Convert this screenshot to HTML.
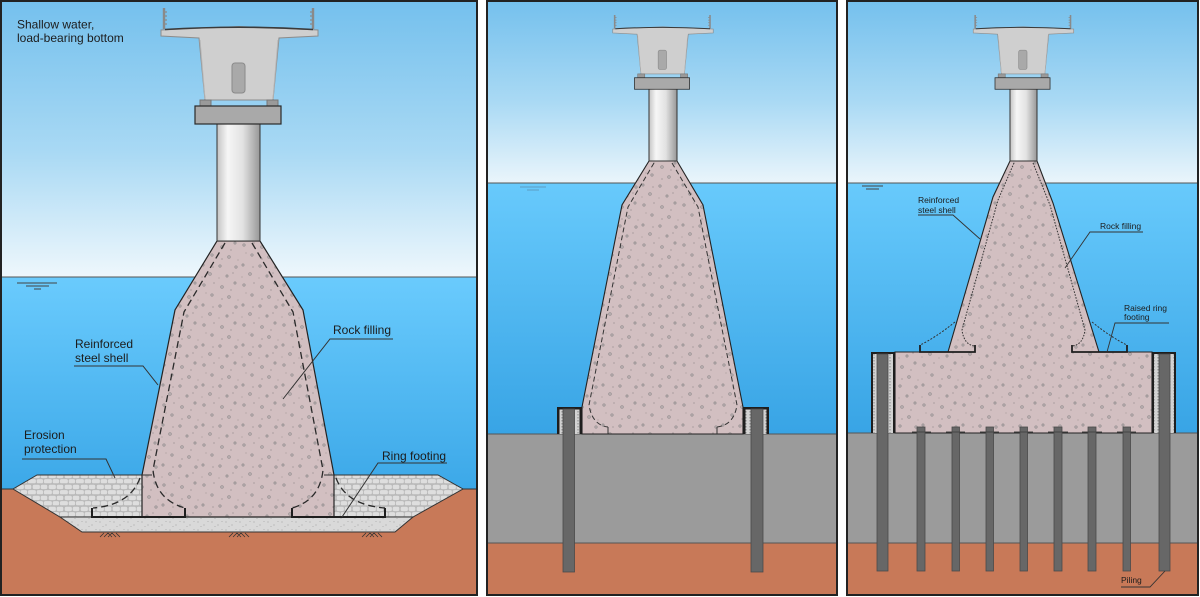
<!DOCTYPE html>
<html><head><meta charset="utf-8"><style>
html,body{margin:0;padding:0;background:#fff;}
svg{display:block;}
text{font-family:"Liberation Sans",Arial,sans-serif;fill:#1c1c1c;}
</style></head><body>
<svg width="1200" height="597" viewBox="0 0 1200 597" xmlns="http://www.w3.org/2000/svg">
<defs>
 <linearGradient id="sky1" gradientUnits="userSpaceOnUse" x1="0" y1="0" x2="0" y2="277">
  <stop offset="0" stop-color="#74c0ed"/><stop offset="0.55" stop-color="#a9d9f4"/><stop offset="1" stop-color="#eef7fc"/>
 </linearGradient>
 <linearGradient id="sky2" gradientUnits="userSpaceOnUse" x1="0" y1="0" x2="0" y2="183">
  <stop offset="0" stop-color="#74c0ed"/><stop offset="0.55" stop-color="#a9d9f4"/><stop offset="1" stop-color="#eaf5fb"/>
 </linearGradient>
 <linearGradient id="wat1" gradientUnits="userSpaceOnUse" x1="0" y1="277" x2="0" y2="489">
  <stop offset="0" stop-color="#6acbfd"/><stop offset="1" stop-color="#3ca8e8"/>
 </linearGradient>
 <linearGradient id="wat2" gradientUnits="userSpaceOnUse" x1="0" y1="183" x2="0" y2="434">
  <stop offset="0" stop-color="#68cafc"/><stop offset="1" stop-color="#38a4e5"/>
 </linearGradient>
 <linearGradient id="colg" x1="0" y1="0" x2="1" y2="0">
  <stop offset="0" stop-color="#c4c4c4"/><stop offset="0.25" stop-color="#f6f6f6"/><stop offset="0.6" stop-color="#e2e2e2"/><stop offset="1" stop-color="#979797"/>
 </linearGradient>
 <pattern id="dots" width="40" height="40" patternUnits="userSpaceOnUse">
  <rect width="40" height="40" fill="#d2bfc1"/>
  <g fill="#c4b7b9" stroke="#8e8a8b" stroke-width="0.7">
   <circle cx="4" cy="5" r="1.2"/><circle cx="22" cy="7" r="1.3"/><circle cx="35" cy="3" r="1.1"/>
   <circle cx="12" cy="15" r="1.2"/><circle cx="29" cy="17" r="1.3"/>
   <circle cx="3" cy="25" r="1.1"/><circle cx="20" cy="26" r="1.2"/><circle cx="36" cy="27" r="1.2"/>
   <circle cx="10" cy="34" r="1.3"/><circle cx="27" cy="36" r="1.1"/>
  </g>
  <g fill="#8f8889">
   <circle cx="14" cy="3" r="0.6"/><circle cx="31" cy="10" r="0.6"/><circle cx="6" cy="13" r="0.5"/>
   <circle cx="22" cy="19" r="0.6"/><circle cx="38" cy="20" r="0.5"/><circle cx="13" cy="27" r="0.6"/>
   <circle cx="33" cy="33" r="0.6"/><circle cx="2" cy="37" r="0.5"/><circle cx="19" cy="38" r="0.5"/>
  </g>
 </pattern>
 <pattern id="stones" width="16" height="11" patternUnits="userSpaceOnUse">
  <rect width="16" height="11" fill="#b9b9b9"/>
  <g fill="#dedede">
   <rect x="0.7" y="0.7" width="7.2" height="4.4" rx="1.6"/>
   <rect x="8.7" y="0.7" width="6.6" height="4.4" rx="1.6"/>
   <rect x="-3.3" y="6.1" width="7.2" height="4.2" rx="1.6"/>
   <rect x="4.7" y="6.1" width="6.4" height="4.2" rx="1.6"/>
   <rect x="11.9" y="6.1" width="7.2" height="4.2" rx="1.6"/>
  </g>
 </pattern>
 <pattern id="gravel" width="14" height="8" patternUnits="userSpaceOnUse">
  <rect width="14" height="8" fill="#d9d9d9"/>
  <g fill="#a8a8a8"><circle cx="2" cy="2" r="0.6"/><circle cx="8" cy="5" r="0.6"/><circle cx="12" cy="1.5" r="0.5"/><circle cx="5" cy="6.5" r="0.5"/></g>
 </pattern>
 <pattern id="strip" width="4" height="3" patternUnits="userSpaceOnUse">
  <rect width="4" height="3" fill="#d2d2d2"/><rect x="1.5" y="0" width="1" height="1.5" fill="#8a8a8a"/>
 </pattern>
 <g id="deck">
  <path d="M164,8 V29 M313,8 V29" stroke="#8a8a8a" stroke-width="2.4" fill="none"/>
  <path d="M164,12 h3 M164,16 h3 M164,20 h3 M164,24 h3 M313,12 h-3 M313,16 h-3 M313,20 h-3 M313,24 h-3" stroke="#8a8a8a" stroke-width="1.2"/>
  <polygon points="161,30 239,26.5 318,30 318,36 279,38 273,100 205,100 199,38 161,36" fill="#cfcfcf" stroke="#8c8c8c" stroke-width="1"/>
  <path d="M200,40 L205,99 M278,40 L273,99" stroke="#b4b4b4" stroke-width="1" fill="none"/>
  <path d="M165,29.5 Q239,25 313,29.5" stroke="#3a3a3a" stroke-width="1.6" fill="none"/>
  <rect x="232" y="63" width="13" height="30" rx="3" fill="#a9a9a9" stroke="#8a8a8a"/>
  <rect x="200" y="100" width="11" height="6" fill="#9a9a9a" stroke="#777"/>
  <rect x="267" y="100" width="11" height="6" fill="#9a9a9a" stroke="#777"/>
  <rect x="195" y="106" width="86" height="18" fill="#a9a9a9" stroke="#2a2a2a" stroke-width="1.2"/>
 </g>
 <clipPath id="c1"><rect x="1" y="1" width="476" height="594"/></clipPath>
 <clipPath id="c2"><rect x="487" y="1" width="350" height="594"/></clipPath>
 <clipPath id="c3"><rect x="847" y="1" width="351" height="594"/></clipPath>
</defs>

<!-- ================= PANEL 1 ================= -->
<g clip-path="url(#c1)">
 <rect x="0" y="0" width="478" height="277" fill="url(#sky1)"/>
 <rect x="0" y="277" width="478" height="212" fill="url(#wat1)"/>
 <line x1="0" y1="277" x2="478" y2="277" stroke="#555" stroke-width="1"/>
 <rect x="0" y="489" width="478" height="108" fill="#c87958"/>
 <line x1="0" y1="489" x2="478" y2="489" stroke="#333" stroke-width="1"/>
 <polygon points="37,475 438,475 463,489 413,517 60,517 13,489" fill="url(#stones)" stroke="#333" stroke-width="1"/>
 <polygon points="60,517 413,517 395,532 82,532" fill="url(#gravel)" stroke="#333" stroke-width="1"/>
 <g stroke="#333" stroke-width="0.8">
  <path d="M100,537 l4,-4 M104,537 l4,-4 M108,537 l4,-4 M112,537 l-4,-4 M116,537 l-4,-4 M120,537 l-4,-4"/>
  <path d="M229,537 l4,-4 M233,537 l4,-4 M237,537 l4,-4 M241,537 l-4,-4 M245,537 l-4,-4 M249,537 l-4,-4"/>
  <path d="M362,537 l4,-4 M366,537 l4,-4 M370,537 l4,-4 M374,537 l-4,-4 M378,537 l-4,-4 M382,537 l-4,-4"/>
 </g>
 <polygon points="217,241 260,241 303,310 334,475 334,517 142,517 142,475 175,310" fill="url(#dots)" stroke="#222" stroke-width="1.2"/>
 <path d="M225,243 L184,312 L153,470 Q156,500 185,508" fill="none" stroke="#2a2a2a" stroke-width="1.3" stroke-dasharray="7,4"/>
 <path d="M252,243 L293,312 L323,470 Q320,500 292,508" fill="none" stroke="#2a2a2a" stroke-width="1.3" stroke-dasharray="7,4"/>
 <path d="M140,478 Q130,505 93,508" fill="none" stroke="#2a2a2a" stroke-width="1.3" stroke-dasharray="7,4"/>
 <path d="M336,478 Q346,505 385,508" fill="none" stroke="#2a2a2a" stroke-width="1.3" stroke-dasharray="7,4"/>
 <path d="M142,475 h10 M334,475 h-10" stroke="#333" stroke-width="1"/>
 <path d="M92,508 V517 H185 V508 M292,508 V517 H385 V508" fill="none" stroke="#1e1e1e" stroke-width="2"/>
 <rect x="217" y="124" width="43" height="117" fill="url(#colg)" stroke="#333" stroke-width="1"/>
 <use href="#deck"/>
 <path d="M17,283 H57 M26,286 H49 M34,289 H41" stroke="#444" stroke-width="1"/>
 <text x="17" y="28.5" font-size="12">Shallow water,</text>
 <text x="17" y="42" font-size="12">load-bearing bottom</text>
 <text x="75" y="348" font-size="12">Reinforced</text>
 <text x="75" y="362" font-size="12">steel shell</text>
 <text x="333" y="334" font-size="12">Rock filling</text>
 <text x="24" y="439" font-size="12">Erosion</text>
 <text x="24" y="453" font-size="12">protection</text>
 <text x="382" y="460" font-size="12">Ring footing</text>
 <g fill="none" stroke="#333" stroke-width="1">
  <path d="M74,366 H143 L158,385"/>
  <path d="M393,339 H330 L283,399"/>
  <path d="M22,459 H106 L115,478"/>
  <path d="M447,463 H378 L342,517"/>
 </g>
</g>
<rect x="1" y="1" width="476" height="594" fill="none" stroke="#222" stroke-width="2"/>

<!-- ================= PANEL 2 ================= -->
<g clip-path="url(#c2)">
 <rect x="487" y="0" width="351" height="183" fill="url(#sky2)"/>
 <rect x="487" y="183" width="351" height="251" fill="url(#wat2)"/>
 <line x1="487" y1="183" x2="838" y2="183" stroke="#555" stroke-width="1"/>
 <rect x="487" y="434" width="351" height="109" fill="#9b9b9b"/>
 <rect x="487" y="543" width="351" height="54" fill="#c87958"/>
 <path d="M487,434 H838 M487,543 H838" stroke="#555" stroke-width="1"/>
 <polygon points="649,161 677,161 703,205 743,407 743,434 582,434 582,407 622,205" fill="url(#dots)" stroke="#222" stroke-width="1.1"/>
 <path d="M654,163 L628,207 L589,405 Q592,425 608,427" fill="none" stroke="#333" stroke-width="1" stroke-dasharray="5,3"/>
 <path d="M672,163 L698,207 L737,405 Q734,425 717,427" fill="none" stroke="#333" stroke-width="1" stroke-dasharray="5,3"/>
 <path d="M608,427 V434 M717,427 V434" stroke="#333" stroke-width="1"/>
 <rect x="557" y="407" width="25" height="27" fill="#1e1e1e"/>
 <rect x="559.5" y="409.5" width="20" height="24.5" fill="url(#strip)"/>
 <rect x="743" y="407" width="26" height="27" fill="#1e1e1e"/>
 <rect x="745.5" y="409.5" width="21" height="24.5" fill="url(#strip)"/>
 <rect x="563" y="409" width="11.5" height="163" fill="#676767" stroke="#4a4a4a" stroke-width="0.8"/>
 <rect x="751" y="409" width="12" height="163" fill="#676767" stroke="#4a4a4a" stroke-width="0.8"/>
 <rect x="649" y="89" width="28" height="72" fill="url(#colg)" stroke="#333" stroke-width="1"/>
 <use href="#deck" transform="translate(509.7,9.9) scale(0.64)"/>
 <path d="M520,187 H546 M527,190 H539" stroke="#5a8fb0" stroke-width="0.8"/>
</g>
<rect x="487" y="1" width="350" height="594" fill="none" stroke="#222" stroke-width="2"/>

<!-- ================= PANEL 3 ================= -->
<g clip-path="url(#c3)">
 <rect x="847" y="0" width="352" height="183" fill="url(#sky2)"/>
 <rect x="847" y="183" width="352" height="251" fill="url(#wat2)"/>
 <line x1="847" y1="183" x2="1199" y2="183" stroke="#555" stroke-width="1"/>
 <rect x="847" y="433" width="352" height="110" fill="#9b9b9b"/>
 <rect x="847" y="543" width="352" height="54" fill="#c87958"/>
 <path d="M847,433 H1199 M847,543 H1199" stroke="#555" stroke-width="1"/>
 <polygon points="895,352 948,352 993,197 1010,161 1037,161 1053,203 1099,352 1152,352 1152,433 895,433" fill="url(#dots)" stroke="#222" stroke-width="1.1"/>
 <path d="M1014,163 L998,200 L962,330 Q964,345 975,346" fill="none" stroke="#333" stroke-width="1" stroke-dasharray="1.6,1.4"/>
 <path d="M1033,163 L1050,205 L1085,330 Q1083,345 1072,346" fill="none" stroke="#333" stroke-width="1" stroke-dasharray="1.6,1.4"/>
 <path d="M955,322 Q935,338 920,345" fill="none" stroke="#333" stroke-width="1" stroke-dasharray="2,1.5"/>
 <path d="M1092,322 Q1112,338 1127,345" fill="none" stroke="#333" stroke-width="1" stroke-dasharray="2,1.5"/>
 <path d="M920,345 V352 H975 V345 M1072,345 V352 H1127 V345" fill="none" stroke="#1e1e1e" stroke-width="1.8"/>
 <rect x="871" y="352" width="24" height="81" fill="#1e1e1e"/>
 <rect x="873" y="354" width="20" height="79" fill="url(#strip)"/>
 <rect x="1152" y="352" width="24" height="81" fill="#1e1e1e"/>
 <rect x="1154" y="354" width="20" height="79" fill="url(#strip)"/>
 <g fill="#676767" stroke="#4a4a4a" stroke-width="0.8">
  <rect x="877" y="354" width="11" height="217"/>
  <rect x="1159" y="354" width="11" height="217"/>
  <rect x="917" y="427" width="8" height="144"/>
  <rect x="952" y="427" width="7.5" height="144"/>
  <rect x="986" y="427" width="7.5" height="144"/>
  <rect x="1020" y="427" width="7.5" height="144"/>
  <rect x="1054" y="427" width="8" height="144"/>
  <rect x="1088" y="427" width="8" height="144"/>
  <rect x="1123" y="427" width="7.5" height="144"/>
 </g>
 <path d="M912,432 H931 M946,432 H965 M980,432 H999 M1014,432 H1033 M1048,432 H1068 M1082,432 H1102 M1117,432 H1136" stroke="#444" stroke-width="1"/>
 <rect x="1010" y="89" width="27" height="72" fill="url(#colg)" stroke="#333" stroke-width="1"/>
 <use href="#deck" transform="translate(870.2,9.9) scale(0.64)"/>
 <path d="M862,186 H883 M866,189 H879" stroke="#444" stroke-width="0.9"/>
 <text x="918" y="203" font-size="8.5">Reinforced</text>
 <text x="918" y="213" font-size="8.5">steel shell</text>
 <text x="1100" y="229" font-size="8.5">Rock filling</text>
 <text x="1124" y="311" font-size="8.5">Raised ring</text>
 <text x="1124" y="320" font-size="8.5">footing</text>
 <text x="1121" y="583" font-size="8.5">Piling</text>
 <g fill="none" stroke="#333" stroke-width="0.9">
  <path d="M918,215 H953 L980,239"/>
  <path d="M1143,232 H1090 L1065,268"/>
  <path d="M1169,323 H1115 L1107,352"/>
  <path d="M1121,587 H1150 L1165,571"/>
 </g>
</g>
<rect x="847" y="1" width="351" height="594" fill="none" stroke="#222" stroke-width="2"/>
</svg>
</body></html>
